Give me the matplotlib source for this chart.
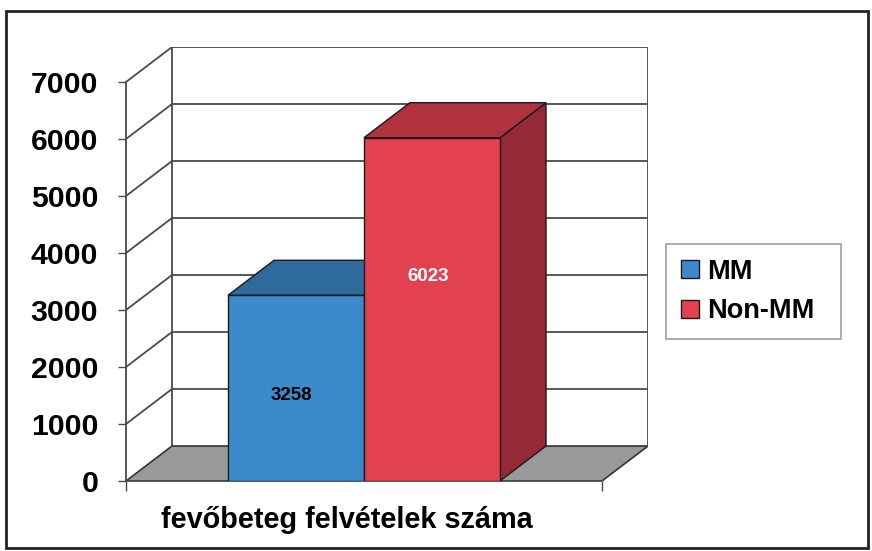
import matplotlib.pyplot as plt
from matplotlib.patches import Polygon, Rectangle, Patch

plt.rcParams['font.family'] = ['Liberation Sans', 'DejaVu Sans']
plt.rcParams['font.weight'] = 'bold'

# data
series = ['MM', 'Non-MM']
values = [3258, 6023]
yticks = [0, 1000, 2000, 3000, 4000, 5000, 6000, 7000]
xlabel = 'fevőbeteg felvételek száma'

front_cols = ['#3B8BCC', '#E2414F']
top_cols = ['#2E6B9C', '#B0323F']
side_cols = ['#24557C', '#932A36']
label_cols = ['black', 'white']
label_frac = [0.463, 0.597]   # where Excel put the value labels

W, H = 872, 551
fig = plt.figure(figsize=(W / 100, H / 100), dpi=100)

# oblique depth offset in data units
DX = 46 / 476
DY = 614
YMAX = 7000

ax = fig.add_axes([126 / W, 1 - 481 / H, 522 / W, 434 / H])
ax.set_xlim(0, 1 + DX)
ax.set_ylim(0, YMAX + DY)
ax.patch.set_visible(False)
for s in ['top', 'right']:
    ax.spines[s].set_visible(False)

grid = '#4a4a4a'
lw = 1.3

# floor
ax.add_patch(Polygon([(0, 0), (1, 0), (1 + DX, DY), (DX, DY)], closed=True,
                     facecolor='#999999', edgecolor='#333333', lw=1.2, zorder=1))
# back wall + side wall gridlines
for v in yticks[1:]:
    ax.plot([DX, 1 + DX], [v + DY, v + DY], color=grid, lw=lw, zorder=1)
    ax.plot([0, DX], [v, v + DY], color=grid, lw=lw, zorder=1)
ax.plot([DX, DX], [DY, YMAX + DY], color=grid, lw=lw, zorder=1)
ax.plot([1 + DX, 1 + DX], [DY, YMAX + DY], color=grid, lw=lw, zorder=1)

# bars
n = len(values)
bw = 1 / (n + 1.5)
x0 = 0.75 * bw
for i, v in enumerate(values):
    xl = x0 + i * bw
    xr = xl + bw
    ec = '#1a1a1a'
    ax.add_patch(Polygon([(xr, 0), (xr + DX, DY), (xr + DX, v + DY), (xr, v)],
                         closed=True, facecolor=side_cols[i], edgecolor=ec, lw=1, zorder=3 + i))
    ax.add_patch(Polygon([(xl, v), (xr, v), (xr + DX, v + DY), (xl + DX, v + DY)],
                         closed=True, facecolor=top_cols[i], edgecolor=ec, lw=1, zorder=3 + i))
    ax.add_patch(Rectangle((xl, 0), bw, v, facecolor=front_cols[i],
                           edgecolor=ec, lw=1, zorder=3 + i))
    ax.text(xl + bw * 0.47, v * label_frac[i], str(v), ha='center', va='center',
            fontsize=13.5, fontweight='bold', color=label_cols[i], zorder=10)

# axes
ax.spines['left'].set_bounds(0, YMAX)
ax.spines['bottom'].set_bounds(0, 1)
ax.spines['left'].set_color(grid)
ax.spines['bottom'].set_color(grid)
ax.spines['left'].set_linewidth(lw)
ax.spines['bottom'].set_linewidth(lw)
ax.set_yticks(yticks)
ax.set_yticklabels([str(t) for t in yticks], fontsize=21.7, fontweight='bold')
ax.tick_params(axis='y', length=6, width=1, color=grid, pad=14)
ax.set_xticks([0, 1])
ax.set_xticklabels(['', ''])
ax.tick_params(axis='x', length=7, width=1, color=grid)

fig.text(347 / W, 1 - 520 / H, xlabel, ha='center', va='center',
         fontsize=20.8, fontweight='bold')

handles = [Patch(facecolor=c, edgecolor='#1a1a1a', lw=1) for c in front_cols]
leg = fig.legend(handles, series, loc='upper left', mode='expand',
                 bbox_to_anchor=(666 / W, 1 - 333 / H, 175 / W, 89 / H),
                 prop={'size': 19.5, 'weight': 'bold'}, fancybox=False,
                 edgecolor='#888888', handlelength=0.65, handleheight=0.65,
                 handletextpad=0.3, labelspacing=0.5, borderpad=0.55,
                 borderaxespad=0)
leg.get_frame().set_linewidth(1.2)

# outer frame
fig.patches.append(Rectangle((6 / W, 3 / H), 862 / W, 537 / H, transform=fig.transFigure,
                             fill=False, edgecolor='#222222', lw=2))

fig.savefig('out.png', dpi=100)
